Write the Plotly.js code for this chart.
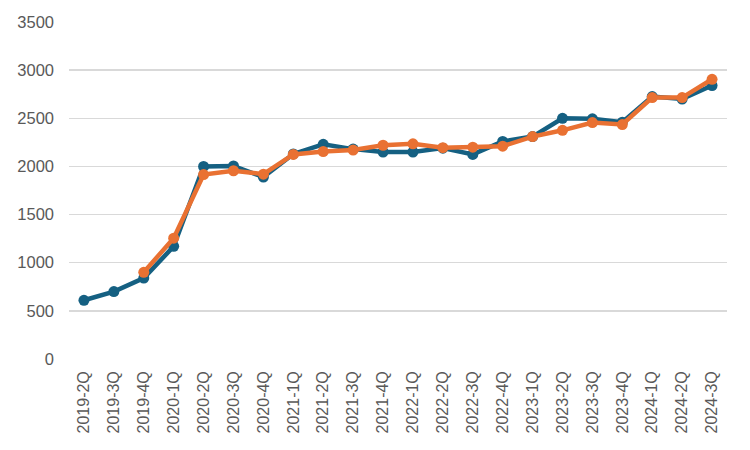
<!DOCTYPE html>
<html>
<head>
<meta charset="utf-8">
<script src="https://cdn.plot.ly/plotly-3.0.1.min.js"></script>
<style>
  html, body { margin: 0; padding: 0; background: #fff; }
  #chart { width: 750px; height: 450px; }
</style>
</head>
<body>
<div id="chart"></div>
<script>
const quarters = [
  '2019-2Q', '2019-3Q', '2019-4Q', '2020-1Q', '2020-2Q', '2020-3Q', '2020-4Q',
  '2021-1Q', '2021-2Q', '2021-3Q', '2021-4Q', '2022-1Q', '2022-2Q', '2022-3Q',
  '2022-4Q', '2023-1Q', '2023-2Q', '2023-3Q', '2023-4Q', '2024-1Q', '2024-2Q', '2024-3Q'
];

const seriesBlue = [
  610, 700, 840, 1170, 2000, 2005, 1890,
  2130, 2230, 2180, 2150, 2150, 2190, 2125,
  2260, 2310, 2500, 2495, 2460, 2725, 2700, 2840
];

const seriesOrange = [
  null, null, 900, 1255, 1915, 1955, 1920,
  2125, 2155, 2170, 2220, 2235, 2195, 2200,
  2210, 2310, 2375, 2455, 2435, 2715, 2715, 2905
];

const yTicks = [0, 500, 1000, 1500, 2000, 2500, 3000, 3500];

const data = [
  {
    x: quarters,
    y: seriesBlue,
    mode: 'lines+markers',
    line: {width: 4.5, color: '#156082'},
    marker: {size: 11, color: '#156082'},
    hoverinfo: 'x+y'
  },
  {
    x: quarters,
    y: seriesOrange,
    mode: 'lines+markers',
    line: {width: 4.5, color: '#E97132'},
    marker: {size: 11, color: '#E97132'},
    hoverinfo: 'x+y'
  }
];

const layout = {
  width: 750,
  height: 450,
  showlegend: false,
  paper_bgcolor: '#ffffff',
  plot_bgcolor: '#ffffff',
  margin: {l: 69, r: 23, t: 22, b: 91},
  font: {family: 'Liberation Sans, Arial, sans-serif', size: 16, color: '#595959'},
  xaxis: {
    type: 'category',
    range: [-0.5, 21.5],
    tickangle: -90,
    showgrid: false,
    showline: false,
    zeroline: false,
    ticks: '',
    ticklabelstandoff: 8,
    tickfont: {size: 16, color: '#595959'}
  },
  yaxis: {
    range: [0, 3500],
    tickvals: yTicks,
    ticktext: yTicks.map(String),
    gridcolor: '#d9d9d9',
    gridwidth: 1.5,
    zeroline: false,
    showline: false,
    ticks: '',
    ticklen: 0,
    ticklabelstandoff: 14,
    tickfont: {size: 16.5, color: '#595959'}
  }
};

Plotly.newPlot('chart', data, layout, {displayModeBar: false, staticPlot: true});
</script>
</body>
</html>
